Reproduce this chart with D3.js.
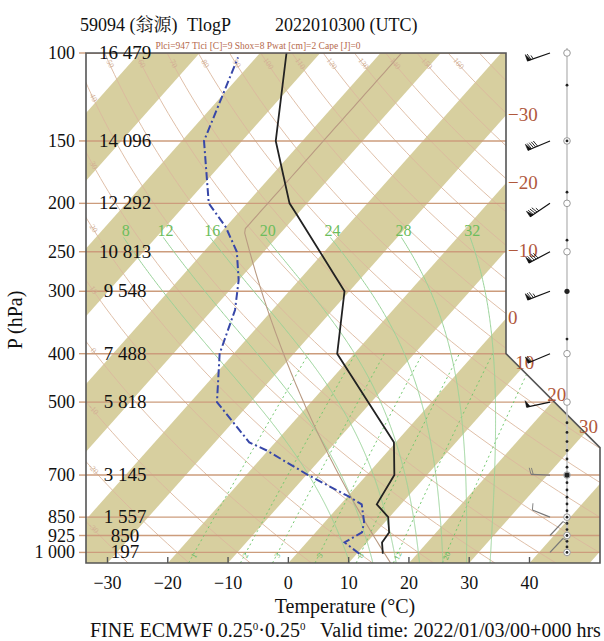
<!DOCTYPE html>
<html>
<head>
<meta charset="utf-8">
<script src="https://cdn.jsdelivr.net/npm/d3@7"></script>
<style>
  body { margin: 0; background: #fff; }
  svg { display: block; }
</style>
</head>
<body>
<div id="chart"></div>
<script>
// Skew-T / log-P sounding, station 59094

// ---- data ----
const pressureLevels = [100, 150, 200, 250, 300, 400, 500, 700, 850, 925, 1000];
const pressureLabels = ["100", "150", "200", "250", "300", "400", "500", "700", "850", "925", "1 000"];
const heightLabels = ["16 479", "14 096", "12 292", "10 813", "9 548", "7 488", "5 818", "3 145", "1 557", "850", "197"];
const tempTicks = [-30, -20, -10, 0, 10, 20, 30, 40];
const isothermLabels = [-30, -20, -10, 0, 10, 20, 30];

// temperature profile (hPa, degC)
const tempPressure = [1006, 955, 912, 850, 801, 700, 602, 400, 300, 210, 200, 150, 100];
const tempValues = [14.3, 12.5, 12.2, 9.8, 6.0, 4.6, -0.3, -22.8, -30.8, -50.2, -52.9, -64.4, -75.6];

// dew point profile (hPa, degC)
const dewPressure = [1006, 955, 912, 869, 801, 769, 700, 625, 602, 500, 400, 327, 285, 250, 223, 200, 150, 102];
const dewValues = [10.4, 6.3, 7.7, 6.5, 3.5, -0.3, -9.7, -20.2, -24.3, -35.6, -42.3, -46.2, -50.0, -54.5, -60.0, -66.3, -76.3, -83.0];

// winds (direction deg, speed m/s)
const windLevels = [100, 150, 200, 250, 300, 400, 500, 700, 850, 925, 1000];
const windDir = [251, 247, 236, 242, 249, 247, 258, 272, 292, 43, 43];
const windSpeed = [26, 36, 34, 36, 30, 24, 20, 8, 4, 2, 2];

// model levels shown on the side bar
const levelDots = [116, 150, 190, 237, 300, 374, 550, 575, 600, 625, 650, 675, 700, 725, 750, 775, 800, 825, 850, 875, 900, 925, 950, 975, 1000];
const levelCircles = [100, 150, 200, 250, 400, 500, 700, 850, 925, 1000];

// reference lines
const bandStarts = [-120, -100, -80, -60, -40, -20, 0, 20, 40];
const dryAdiabats = [-40, -30, -20, -10, 0, 10, 20, 30, 40, 50, 60, 70, 80, 90, 100, 110, 120, 130, 140, 150, 160, 170];
const dryLabelsLeft = [-30, -20, -10, 0, 10, 20, 30, 40];
const dryLabelsTop = [50, 60, 70, 80, 90, 100, 110, 120, 130, 140, 150, 160];
const moistAdiabats = [8, 12, 16, 20, 24, 28, 32];
const mixingRatios = [1, 2, 3, 5, 8, 12, 20];

// ---- layout ----
const width = 604;
const height = 641;
const plotTop = 53, plotBottom = 563, plotLeft = 86, plotRight = 506, farRight = 600;
const skew = 0.89;
const serif = "'Liberation Serif', 'Times New Roman', serif";

const yScale = d3.scaleLog().domain([100, 1050]).range([plotTop, plotBottom]);
const xScale = d3.scaleLinear().domain([-30, 40]).range([107.5, 529.5]);
const X = (t, p) => xScale(t) + skew * (plotBottom - yScale(p));

const y400 = yScale(400);
const frame = [[plotLeft, plotTop], [plotRight, plotTop], [plotRight, y400],
  [farRight, y400 + (farRight - plotRight)], [farRight, plotBottom], [plotLeft, plotBottom]];

const svg = d3.select("#chart").append("svg")
  .attr("width", width).attr("height", height)
  .attr("viewBox", `0 0 ${width} ${height}`);

svg.append("defs").append("clipPath").attr("id", "plotClip")
  .append("path").attr("d", d3.line()(frame) + "Z");

const plot = svg.append("g").attr("clip-path", "url(#plotClip)");

// sample pressures, log spaced
const sampleP = (p0, p1, n) => d3.range(n + 1).map(i => p0 * Math.pow(p1 / p0, i / n));

// isotherm bands
plot.selectAll(".band").data(bandStarts).join("path")
  .attr("class", "band")
  .attr("d", t0 => d3.line()([[X(t0, 1050), plotBottom], [X(t0 + 10, 1050), plotBottom],
    [X(t0 + 10, 100), plotTop], [X(t0, 100), plotTop]]) + "Z")
  .attr("fill", "#d7cf9f");

// dry adiabats
const dryT = (theta, p) => (theta + 273.15) * Math.pow(p / 1000, 0.2857) - 273.15;
const curve = d3.line().x(d => d[0]).y(d => d[1]);
plot.selectAll(".dry").data(dryAdiabats).join("path")
  .attr("class", "dry")
  .attr("d", th => curve(sampleP(1050, 95, 80).map(p => [X(dryT(th, p), p), yScale(p)])))
  .attr("fill", "none").attr("stroke", "#dbb89e").attr("stroke-width", 0.9);

// pressure lines
svg.selectAll(".pstub").data(pressureLevels).join("line")
  .attr("class", "pstub")
  .attr("x1", 79).attr("x2", plotLeft)
  .attr("y1", p => yScale(p)).attr("y2", p => yScale(p))
  .attr("stroke", "#cc9c7c").attr("stroke-width", 1.4);
plot.selectAll(".pline").data(pressureLevels).join("line")
  .attr("class", "pline")
  .attr("x1", plotLeft).attr("x2", farRight)
  .attr("y1", p => yScale(p)).attr("y2", p => yScale(p))
  .attr("stroke", "#cc9c7c").attr("stroke-width", 1.4);

// mixing ratio lines
const mixTd = (w, p) => {
  const e = w * p / (622 + w);
  const l = Math.log(e / 6.112);
  return 243.5 * l / (17.67 - l);
};
plot.selectAll(".mix").data(mixingRatios).join("path")
  .attr("class", "mix")
  .attr("d", w => curve(sampleP(1050, 400, 40).map(p => [X(mixTd(w, p), p), yScale(p)])))
  .attr("fill", "none").attr("stroke", "#72c86e").attr("stroke-width", 1)
  .attr("stroke-dasharray", "2,3");

// moist adiabats
const Rd = 287.04, Cp = 1005.7, Lv = 2.501e6, eps = 0.622;
const es = tc => 6.112 * Math.exp(17.67 * tc / (tc + 243.5));
const lapse = (p, tk) => {
  const e = es(tk - 273.15);
  const rs = eps * e / (p - e);
  return (Rd * tk + Lv * rs) / (p * (Cp + Lv * Lv * rs * eps / (Rd * tk * tk)));
};
const moistCurve = (tw, pTop) => {
  const down = [];
  let tk = tw + 273.15;
  for (let q = 1000; q < 1050; q += 2) {
    const k1 = lapse(q, tk), k2 = lapse(q + 2, tk + k1 * 2);
    tk += (k1 + k2) / 2 * 2;
    down.push([q + 2, tk - 273.15]);
  }
  const pts = down.reverse();
  pts.push([1000, tw]);
  tk = tw + 273.15;
  let p = 1000;
  while (p > pTop) {
    const dp = -2;
    const k1 = lapse(p, tk), k2 = lapse(p + dp, tk + k1 * dp);
    tk += (k1 + k2) / 2 * dp;
    p += dp;
    pts.push([p, tk - 273.15]);
  }
  return pts;
};
const moistTop = 235;
const moistData = moistAdiabats.map(tw => ({ tw, pts: moistCurve(tw, moistTop) }));
plot.selectAll(".moist").data(moistData).join("path")
  .attr("class", "moist")
  .attr("d", d => curve(d.pts.map(([p, t]) => [X(t, p), yScale(p)])))
  .attr("fill", "none").attr("stroke", "#98d298").attr("stroke-width", 1);

// standard atmosphere
const stdT = p => p > 226.32 ? 288.15 * Math.pow(p / 1013.25, 0.190263) - 273.15 : -56.5;
plot.append("path")
  .attr("d", curve(sampleP(1050, 95, 120).map(p => [X(stdT(p), p), yScale(p)])))
  .attr("fill", "none").attr("stroke", "#b99a82").attr("stroke-width", 1.1);

// labels of the reference lines
const labelAngle = (fn, p) => {
  const a = [X(fn(p), p), yScale(p)], b = [X(fn(p * 1.02), p * 1.02), yScale(p * 1.02)];
  return Math.atan2(b[1] - a[1], b[0] - a[0]) * 180 / Math.PI;
};
const dryLbl = svg.append("g").style("font-family", serif).style("font-size", "8px").attr("fill", "#d1ae93");
dryLabelsTop.forEach(th => {
  const p = yScale.invert(64);
  const x = X(dryT(th, p), p);
  dryLbl.append("text").attr("text-anchor", "middle").attr("dominant-baseline", "middle")
    .attr("transform", `translate(${x},64) rotate(${labelAngle(q => dryT(th, q), p)})`)
    .text(th);
});
dryLabelsLeft.forEach(th => {
  const p = d3.range(100, 1050, 1).find(q => X(dryT(th, q), q) >= 93);
  if (!p) return;
  dryLbl.append("text").attr("text-anchor", "middle").attr("dominant-baseline", "middle")
    .attr("transform", `translate(93,${yScale(p)}) rotate(${labelAngle(q => dryT(th, q), p)})`)
    .text(th);
});

svg.append("g").selectAll("text").data(moistData).join("text")
  .attr("x", d => X(d.pts[d.pts.length - 1][1], moistTop) + 3)
  .attr("y", yScale(moistTop) - 2)
  .attr("text-anchor", "middle")
  .style("font-family", serif).style("font-size", "16px")
  .attr("fill", "#6cbd5c")
  .text(d => d.tw);

const pMix = yScale.invert(556);
svg.append("g").selectAll("text").data(mixingRatios).join("text")
  .attr("text-anchor", "middle").attr("dominant-baseline", "middle")
  .attr("transform", w => `translate(${X(mixTd(w, pMix), pMix) + 2},556) rotate(${labelAngle(q => mixTd(w, q), pMix) + 180})`)
  .style("font-family", serif).style("font-size", "8px")
  .attr("fill", "#5cb85a")
  .text(w => w);

// profiles
const profile = d3.line().x(d => X(d[1], d[0])).y(d => yScale(d[0]));
svg.append("path")
  .attr("d", profile(dewPressure.map((p, i) => [p, dewValues[i]])))
  .attr("fill", "none").attr("stroke", "#3747a8").attr("stroke-width", 2)
  .attr("stroke-dasharray", "8,3,2,3");
svg.append("path")
  .attr("d", profile(tempPressure.map((p, i) => [p, tempValues[i]])))
  .attr("fill", "none").attr("stroke", "#222").attr("stroke-width", 1.8);

// frame
svg.append("path").attr("d", d3.line()(frame) + "Z")
  .attr("fill", "none").attr("stroke", "#555").attr("stroke-width", 1.6);
svg.selectAll(".xtick").data(tempTicks).join("line")
  .attr("class", "xtick")
  .attr("x1", t => xScale(t)).attr("x2", t => xScale(t))
  .attr("y1", plotBottom).attr("y2", plotBottom - 6)
  .attr("stroke", "#555").attr("stroke-width", 1.4);

// isotherm labels on the right edge
const onVertical = t => xScale(t) + skew * (plotBottom - y400) <= plotRight;
const diagY = t => (xScale(t) + skew * plotBottom - plotRight + y400) / (1 + skew);
svg.append("g").selectAll("text").data(isothermLabels).join("text")
  .attr("x", t => onVertical(t) ? plotRight + 2 : plotRight + (diagY(t) - y400) - 6)
  .attr("y", t => onVertical(t) ? plotBottom - (plotRight - xScale(t)) / skew + 6 : diagY(t))
  .style("font-family", serif).style("font-size", "19px")
  .attr("fill", "#b0583c")
  .text(t => t < 0 ? "\u2212" + Math.abs(t) : t);

// axis texts
svg.append("g").selectAll("text").data(pressureLevels).join("text")
  .attr("x", 75).attr("y", p => yScale(p) + 6)
  .attr("text-anchor", "end")
  .style("font-family", serif).style("font-size", "18px").attr("fill", "#111")
  .text((p, i) => pressureLabels[i]);
svg.append("g").selectAll("text").data(pressureLevels).join("text")
  .attr("x", 125).attr("y", p => yScale(p) + 6)
  .attr("text-anchor", "middle")
  .style("font-family", serif).style("font-size", "19px").attr("fill", "#111")
  .text((p, i) => heightLabels[i]);
svg.append("g").selectAll("text").data(tempTicks).join("text")
  .attr("x", t => xScale(t)).attr("y", 589)
  .attr("text-anchor", "middle")
  .style("font-family", serif).style("font-size", "18px").attr("fill", "#111")
  .text(t => t < 0 ? "\u2212" + Math.abs(t) : t);

svg.append("text").attr("x", 345).attr("y", 613).attr("text-anchor", "middle")
  .style("font-family", serif).style("font-size", "20px").attr("fill", "#111")
  .text("Temperature (\u00b0C)");
svg.append("text").attr("transform", "translate(22,320) rotate(-90)").attr("text-anchor", "middle")
  .style("font-family", serif).style("font-size", "20px").attr("fill", "#111")
  .text("P (hPa)");

const footer = svg.append("text").attr("x", 90).attr("y", 637)
  .style("font-family", serif).style("font-size", "20px").attr("fill", "#111")
  .attr("xml:space", "preserve");
footer.append("tspan").text("FINE ECMWF 0.25");
footer.append("tspan").attr("dy", -7).style("font-size", "11px").text("0");
footer.append("tspan").attr("dy", 7).text("\u00b70.25");
footer.append("tspan").attr("dy", -7).style("font-size", "11px").text("0");
footer.append("tspan").attr("dy", 7).text("   Valid time: 2022/01/03/00+000 hrs");

// title
const titleFont = "'Liberation Serif', 'Noto Serif CJK SC', 'Noto Sans CJK SC', serif";
[["59094 (翁源)", 80], ["TlogP", 187], ["2022010300 (UTC)", 275]].forEach(([s, x]) => {
  svg.append("text").attr("x", x).attr("y", 31)
    .style("font-family", titleFont).style("font-size", "18px").attr("fill", "#111")
    .text(s);
});
svg.append("text").attr("x", 258).attr("y", 49).attr("text-anchor", "middle")
  .style("font-family", serif).style("font-size", "9.5px").attr("fill", "#b5694c")
  .text("Plci=947 Tlci [C]=9 Shox=8 Pwat [cm]=2 Cape [J]=0");

// side bar with levels
const barX = 567;
svg.append("line").attr("x1", barX).attr("x2", barX).attr("y1", plotTop - 5).attr("y2", yScale(1000) + 4)
  .attr("stroke", "#c4c4c4").attr("stroke-width", 1.6);
svg.selectAll(".lvcirc").data(levelCircles).join("circle")
  .attr("class", "lvcirc")
  .attr("cx", barX).attr("cy", p => yScale(p)).attr("r", 3.3)
  .attr("fill", "#fff").attr("stroke", "#999").attr("stroke-width", 1);
svg.selectAll(".lvdot").data(levelDots).join("circle")
  .attr("class", "lvdot")
  .attr("cx", barX).attr("cy", p => yScale(p)).attr("r", p => (p === 300 || p === 700) ? 2.6 : 1.4)
  .attr("fill", "#222");

// wind barbs
const barbX = 550;
const barbs = svg.append("g");
windLevels.forEach((p, i) => {
  const spd = windSpeed[i];
  const colour = p >= 700 ? "#777" : "#111";
  const len = spd >= 10 ? 24 : 19;
  const a = windDir[i] * Math.PI / 180;
  const ux = Math.sin(a), uy = -Math.cos(a);
  const fx = -uy, fy = ux;
  const x0 = barbX, y0 = yScale(p);
  const g = barbs.append("g").attr("stroke", colour).attr("fill", colour);
  g.append("line").attr("x1", x0).attr("y1", y0)
    .attr("x2", x0 + ux * len).attr("y2", y0 + uy * len).attr("stroke-width", 1.2);
  let rest = spd, pos = len;
  const flen = 6.5;
  while (rest >= 20) {
    const bx = x0 + ux * pos, by = y0 + uy * pos;
    const cx = x0 + ux * (pos - 3.5), cy = y0 + uy * (pos - 3.5);
    g.append("path").attr("d", d3.line()([[bx, by], [bx + fx * flen, by + fy * flen], [cx, cy]]) + "Z")
      .attr("stroke-width", 0.6);
    pos -= 4;
    rest -= 20;
  }
  while (rest >= 4) {
    const bx = x0 + ux * pos, by = y0 + uy * pos;
    g.append("line").attr("x1", bx).attr("y1", by)
      .attr("x2", bx + fx * flen + ux * 2).attr("y2", by + fy * flen + uy * 2)
      .attr("stroke-width", 0.9);
    pos -= 2.2;
    rest -= 4;
  }
  if (rest >= 2) {
    const bx = x0 + ux * pos, by = y0 + uy * pos;
    g.append("line").attr("x1", bx).attr("y1", by)
      .attr("x2", bx + fx * flen * 0.6 + ux * 1).attr("y2", by + fy * flen * 0.6 + uy * 1)
      .attr("stroke-width", 0.9);
  }
});
</script>
</body>
</html>
